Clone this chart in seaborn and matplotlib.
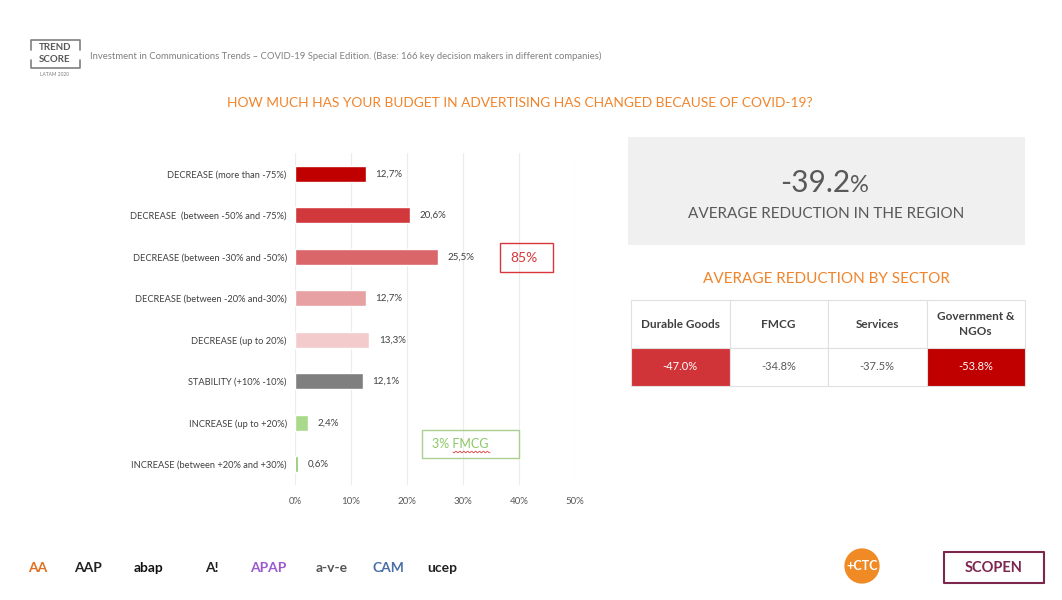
import numpy as np
import pandas as pd
import seaborn as sns
import matplotlib.pyplot as plt
from matplotlib.patches import Rectangle

# data
categories = ["DECREASE (more than -75%)", "DECREASE  (between -50% and -75%)",
              "DECREASE (between -30% and -50%)", "DECREASE (between -20% and-30%)",
              "DECREASE (up to 20%)", "STABILITY (+10% -10%)",
              "INCREASE (up to +20%)", "INCREASE (between +20% and +30%)"]
shares = [12.7, 20.6, 25.5, 12.7, 13.3, 12.1, 2.4, 0.6]
bar_colors = ["#C00000", "#D0383C", "#DA6669", "#E8A1A3", "#F3CBCC",
              "#7F7F7F", "#A9D98A", "#8CC765"]
x_ticks = [0, 10, 20, 30, 40, 50]

sectors = ["Durable Goods", "FMCG", "Services", "Government &\nNGOs"]
sector_values = [-47.0, -34.8, -37.5, -53.8]
sector_fill = ["#D13438", "#FFFFFF", "#FFFFFF", "#C00000"]
region_avg = -39.2

orange = "#F0852D"
gray_txt = "#595959"

sns.set_theme(style="white")
plt.rcParams["font.family"] = ["Lato", "DejaVu Sans"]

fig = plt.figure(figsize=(10.62, 6.0), dpi=100)

# bar chart
ax = fig.add_axes([295 / 1062, 1 - 485 / 600, 280 / 1062, 332 / 600])
df = pd.DataFrame({"cat": categories, "val": shares})
sns.barplot(data=df, x="val", y="cat", hue="cat", palette=bar_colors,
            legend=False, width=0.39, ax=ax, saturation=1)
ax.set_xlim(0, 50)
ax.set_ylim(7.5, -0.5)
ax.set_xticks(x_ticks)
ax.set_xticklabels([f"{t}%" for t in x_ticks], fontsize=7, color=gray_txt)
ax.tick_params(axis="y", labelsize=6.7, labelcolor="#404040", length=0, pad=6)
ax.tick_params(axis="x", length=0, pad=9)
ax.set_xlabel("")
ax.set_ylabel("")
ax.xaxis.grid(True, color="#ECECEC", lw=0.8)
ax.set_axisbelow(True)
for s in ax.spines.values():
    s.set_visible(False)
for i, v in enumerate(shares):
    ax.text(v + 1.7, i, f"{v:.1f}%".replace(".", ","), va="center",
            ha="left", fontsize=7, color="#404040")

# overlay in pixel coordinates
ov = fig.add_axes([0, 0, 1, 1], facecolor="none")
ov.set_xlim(0, 1062)
ov.set_ylim(600, 0)
ov.axis("off")

# header
ov.plot([31, 31, 80, 80], [50, 40, 40, 50], color="#7F7F7F", lw=1.2)
ov.plot([31, 31, 80, 80], [60, 68, 68, 60], color="#7F7F7F", lw=1.2)
ov.text(55, 48, "TREND", ha="center", va="center", fontsize=7,
        fontweight="bold", color="#595959")
ov.text(55, 60, "SCORE", ha="center", va="center", fontsize=7,
        fontweight="bold", color="#595959")
ov.text(55, 74, "LATAM 2020", ha="center", va="center", fontsize=3.5, color="#7F7F7F")
ov.text(90, 56, "Investment in Communications Trends \u2013 COVID-19 Special Edition. "
        "(Base: 166 key decision makers in different companies)",
        ha="left", va="center", fontsize=6.8, color="#808080")
ov.text(520, 103, "HOW MUCH HAS YOUR BUDGET IN ADVERTISING HAS CHANGED BECAUSE OF COVID-19?",
        ha="center", va="center", fontsize=9.9, color=orange)

# callout boxes
ov.add_patch(Rectangle((500, 243), 53, 29, fill=False, ec="#D9363B", lw=1))
ov.text(510, 258, "85%", ha="left", va="center", fontsize=10, color="#D9363B")
ov.add_patch(Rectangle((422, 430), 97, 28, fill=False, ec="#A9D08E", lw=1))
ov.text(432, 444, "3% FMCG", ha="left", va="center", fontsize=9, color="#8CC765")
wx = np.linspace(453, 490, 60)
ov.plot(wx, 452 + 0.8 * np.sin((wx - 453) * 1.6), color="#E04040", lw=0.6)

# average box
ov.add_patch(Rectangle((628, 137), 397, 108, color="#F0F0F0", lw=0))
ov.text(850, 183, f"{region_avg:.1f}", ha="right", va="center", fontsize=21.5,
        color=gray_txt)
ov.text(850, 185, "%", ha="left", va="center", fontsize=17, color=gray_txt)
ov.text(826, 214, "AVERAGE REDUCTION IN THE REGION", ha="center", va="center",
        fontsize=11, color=gray_txt)
ov.text(826, 279, "AVERAGE REDUCTION BY SECTOR", ha="center", va="center",
        fontsize=11, color=orange)

# sector table
x0, cw = 631, 98.5
for j, (name, val, fc) in enumerate(zip(sectors, sector_values, sector_fill)):
    xl = x0 + j * cw
    ov.add_patch(Rectangle((xl, 300), cw, 48, fc="white", ec="#E0E0E0", lw=0.8))
    ov.add_patch(Rectangle((xl, 348), cw, 38, fc=fc, ec="#E0E0E0", lw=0.8))
    ov.text(xl + cw / 2, 324, name, ha="center", va="center", fontsize=8.5,
            fontweight="bold", color="#404040", linespacing=1.35)
    tc = "white" if fc != "#FFFFFF" else gray_txt
    ov.text(xl + cw / 2, 367, f"{val:.1f}%", ha="center", va="center",
            fontsize=8, color=tc)

# footer logos (approximated as text)
logos = [("AA", 38, "#E07020"), ("AAP", 88, "#222222"), ("abap", 148, "#111111"),
         ("A!", 212, "#222222"), ("APAP", 268, "#9B59D0"), ("a-v-e", 332, "#555555"),
         ("CAM", 388, "#4A6FA5"), ("ucep", 442, "#222222")]
for name, lx, col in logos:
    ov.text(lx, 568, name, ha="center", va="center", fontsize=10,
            fontweight="bold", color=col)
ov.text(862, 566, "+CTC", ha="center", va="center", fontsize=9,
        fontweight="bold", color="white",
        bbox=dict(boxstyle="circle,pad=0.15", fc="#F08A24", ec="none"))
ov.plot([944, 944, 1044], [552, 583, 583], color="#7B2750", lw=1.5)
ov.plot([944, 1044, 1044], [552, 552, 583], color="#7B2750", lw=1.5)
ov.text(994, 568, "SCOPEN", ha="center", va="center", fontsize=10.5,
        fontweight="bold", color="#7B2750")

fig.savefig("out.png", dpi=100)
